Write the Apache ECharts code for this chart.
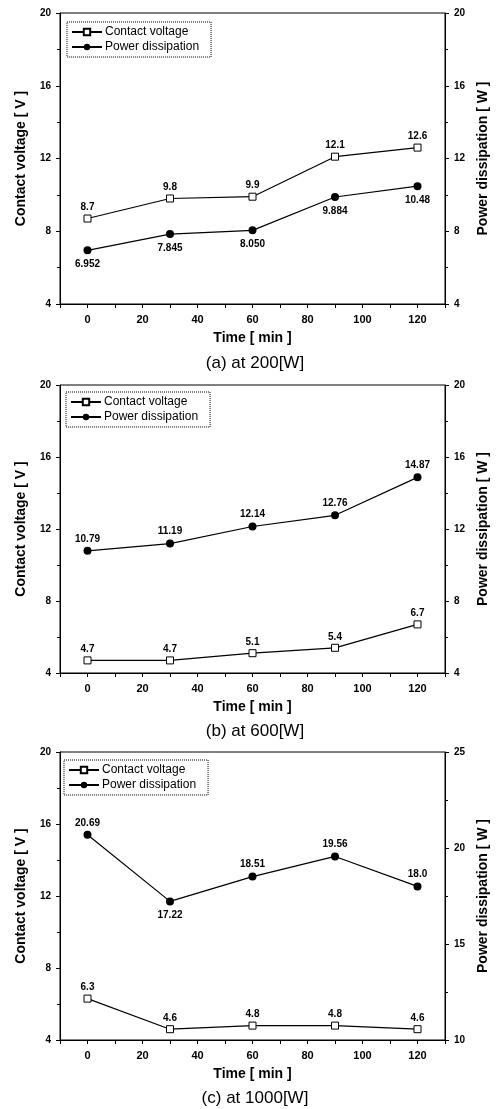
<!DOCTYPE html>
<html>
<head>
<meta charset="utf-8">
<script src="https://cdn.jsdelivr.net/npm/echarts@6/dist/echarts.min.js"></script>
<style>
  html, body { margin: 0; padding: 0; background: #fff; }
  #chart { width: 499px; height: 1109px; }
</style>
</head>
<body>
<div id="chart"></div>
<script>
// 时间轴 (min)
var times = [0, 30, 60, 90, 120];
var xTickLabels = [0, 20, 40, 60, 80, 100, 120];

// (a) 200W
var voltA = ['8.7', '9.8', '9.9', '12.1', '12.6'];
var powerA = ['6.952', '7.845', '8.050', '9.884', '10.48'];
// (b) 600W
var voltB = ['4.7', '4.7', '5.1', '5.4', '6.7'];
var powerB = ['10.79', '11.19', '12.14', '12.76', '14.87'];
// (c) 1000W
var voltC = ['6.3', '4.6', '4.8', '4.8', '4.6'];
var powerC = ['20.69', '17.22', '18.51', '19.56', '18.0'];

var subTitles = ['(a) at 200[W]', '(b) at 600[W]', '(c) at 1000[W]'];
var rightRanges = [[4, 20, 4], [4, 20, 4], [10, 25, 5]];

var FONT = '"Liberation Sans", Arial, sans-serif';

var panels = [
    { top: 13, height: 291, legendTop: 22, legendLeft: 67, titleTop: 355, volt: voltA, power: powerA, powerBelow: [0, 1, 2, 3, 4] },
    { top: 385, height: 288, legendTop: 392, legendLeft: 66, titleTop: 723, volt: voltB, power: powerB, powerBelow: [] },
    { top: 752, height: 288, legendTop: 760, legendLeft: 64, titleTop: 1090, volt: voltC, power: powerC, powerBelow: [1] }
];

var option = {
    backgroundColor: '#fff',
    animation: false,
    textStyle: { fontFamily: FONT },
    title: [], legend: [], grid: [], xAxis: [], yAxis: [], series: []
};

panels.forEach(function(p, k) {
    option.grid.push({
        left: 60, top: p.top, width: 385, height: p.height,
        show: true, borderColor: '#000', borderWidth: 1, backgroundColor: 'transparent'
    });
    option.title.push({
        text: subTitles[k], left: 255, top: p.titleTop, textAlign: 'center', padding: 0,
        textStyle: { fontFamily: FONT, fontSize: 17, fontWeight: 'normal', color: '#000' }
    });
    option.xAxis.push({
        type: 'value', gridIndex: k, min: -10, max: 130, interval: 10,
        name: 'Time [ min ]', nameLocation: 'middle', nameGap: 27,
        nameTextStyle: { fontFamily: FONT, fontSize: 14, fontWeight: 'bold', color: '#000' },
        axisLine: { onZero: false, lineStyle: { color: '#000', width: 1 } },
        axisTick: { show: true, length: 4, lineStyle: { color: '#000' } },
        axisLabel: {
            margin: 10, fontSize: 11, fontWeight: 'bold', color: '#000', fontFamily: FONT,
            formatter: function(v) { return xTickLabels.indexOf(v) >= 0 ? String(v) : ''; }
        },
        splitLine: { show: false }
    });
    // 左轴
    option.yAxis.push({
        type: 'value', gridIndex: k, position: 'left', min: 4, max: 20, interval: 4,
        name: 'Contact voltage [ V ]', nameLocation: 'middle', nameGap: 32, nameRotate: 90,
        nameTextStyle: { fontFamily: FONT, fontSize: 14, fontWeight: 'bold', color: '#000' },
        axisLine: { show: true, onZero: false, lineStyle: { color: '#000' } },
        axisTick: { show: true, length: 4, lineStyle: { color: '#000' } },
        minorTick: { show: true, splitNumber: 2, length: 3, lineStyle: { color: '#000' } },
        axisLabel: { margin: 9, fontSize: 10, fontWeight: 'bold', color: '#000', fontFamily: FONT },
        splitLine: { show: false }
    });
    // 右轴
    var r = rightRanges[k];
    option.yAxis.push({
        type: 'value', gridIndex: k, position: 'right', min: r[0], max: r[1], interval: r[2],
        name: 'Power dissipation [ W ]', nameLocation: 'middle', nameGap: 30, nameRotate: 90,
        nameTextStyle: { fontFamily: FONT, fontSize: 14, fontWeight: 'bold', color: '#000' },
        axisLine: { show: true, onZero: false, lineStyle: { color: '#000' } },
        axisTick: { show: true, length: 4, lineStyle: { color: '#000' } },
        minorTick: { show: true, splitNumber: 2, length: 3, lineStyle: { color: '#000' } },
        axisLabel: { margin: 9, fontSize: 10, fontWeight: 'bold', color: '#000', fontFamily: FONT },
        splitLine: { show: false }
    });

    var vName = 'Contact voltage', pName = 'Power dissipation';
    var volt = p.volt, power = p.power, below = p.powerBelow;

    option.series.push({
        name: vName, type: 'line', xAxisIndex: k, yAxisIndex: k * 2,
        data: times.map(function(t, i) { return [t, Number(volt[i])]; }),
        symbol: 'rect', symbolSize: 7,
        itemStyle: { color: '#fff', borderColor: '#000', borderWidth: 1 },
        lineStyle: { color: '#000', width: 1.2 },
        label: {
            show: true, position: 'top', distance: 2,
            fontSize: 10, fontWeight: 'bold', color: '#000', fontFamily: FONT,
            formatter: function(q) { return volt[q.dataIndex]; }
        },
        z: 3
    });
    option.series.push({
        name: pName, type: 'line', xAxisIndex: k, yAxisIndex: k * 2 + 1,
        data: times.map(function(t, i) {
            var isBelow = below.indexOf(i) >= 0;
            return {
                value: [t, Number(power[i])],
                label: { position: isBelow ? 'bottom' : 'top', distance: isBelow ? 5 : 3 }
            };
        }),
        symbol: 'circle', symbolSize: 8,
        itemStyle: { color: '#000' },
        lineStyle: { color: '#000', width: 1.2 },
        label: {
            show: true,
            fontSize: 10, fontWeight: 'bold', color: '#000', fontFamily: FONT,
            formatter: function(q) { return power[q.dataIndex]; }
        },
        z: 3
    });

    option.legend.push({
        data: [vName, pName],
        orient: 'vertical', left: p.legendLeft, top: p.legendTop,
        itemWidth: 30, itemHeight: 8, itemGap: 3,
        padding: [4, 12, 4, 4],
        borderColor: '#000', borderWidth: 1, borderType: 'dotted',
        backgroundColor: '#fff',
        textStyle: { fontFamily: FONT, fontSize: 12, color: '#000', padding: [0, 0, 0, -2] },
        selectedMode: false
    });
});

var chart = echarts.init(document.getElementById('chart'), null, { renderer: 'canvas' });
chart.setOption(option);
</script>
</body>
</html>
